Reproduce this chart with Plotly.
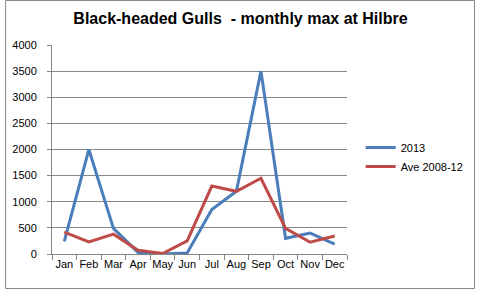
import plotly.graph_objects as go

months = ["Jan", "Feb", "Mar", "Apr", "May", "Jun", "Jul", "Aug", "Sep", "Oct", "Nov", "Dec"]
gulls_2013 = [240, 2000, 490, 30, 0, 20, 850, 1200, 3500, 300, 400, 190]
gulls_ave = [420, 230, 380, 70, 10, 250, 1300, 1200, 1450, 490, 225, 345]
y_ticks = [0, 500, 1000, 1500, 2000, 2500, 3000, 3500, 4000]

W, H = 481, 289
L, R, T, B = 48, 350, 45, 254

fig = go.Figure()
fig.add_trace(go.Scatter(x=months, y=gulls_2013, mode="lines", name="2013",
                         line=dict(color="#4A7EBB", width=3)))
fig.add_trace(go.Scatter(x=months, y=gulls_ave, mode="lines", name="Ave 2008-12",
                         line=dict(color="#BE4B48", width=3)))

def px_x(p):
    return (p - L) / (R - L)

def px_y(p):
    return (B - p) / (B - T)

fig.update_layout(
    width=W, height=H,
    margin=dict(l=L, r=W - R, t=T, b=H - B, pad=0),
    paper_bgcolor="white", plot_bgcolor="white",
    font=dict(family="Liberation Sans, Arial, sans-serif", size=11, color="black"),
    title=dict(text="<b>Black-headed Gulls  - monthly max at Hilbre</b>",
               x=0.5, xanchor="center", y=1 - 18 / H, yanchor="middle",
               font=dict(size=16, color="black")),
    showlegend=True,
    legend=dict(x=px_x(364), y=px_y(133), xanchor="left", yanchor="top",
                font=dict(size=11), bgcolor="rgba(0,0,0,0)", tracegroupgap=0),
    xaxis=dict(type="category", range=[-0.5, 11.5], showgrid=False, showline=True,
               linecolor="#868686", linewidth=1, ticks="outside", tickson="boundaries",
               ticklen=5, tickcolor="#868686", tickangle=0,
               tickfont=dict(size=11)),
    yaxis=dict(range=[0, 4000], tickvals=y_ticks, showgrid=True, gridcolor="#868686",
               gridwidth=1, showline=True, linecolor="#868686", linewidth=1,
               ticks="outside", ticklen=4, tickcolor="#868686", zeroline=False,
               ticklabelstandoff=8, tickfont=dict(size=11)),
    shapes=[dict(type="rect", xref="paper", yref="paper",
                 x0=px_x(0.5), x1=px_x(W - 0.5), y0=px_y(0.5), y1=px_y(H - 0.5),
                 line=dict(color="#868686", width=1), layer="below")],
)

fig.write_html("out.html")
